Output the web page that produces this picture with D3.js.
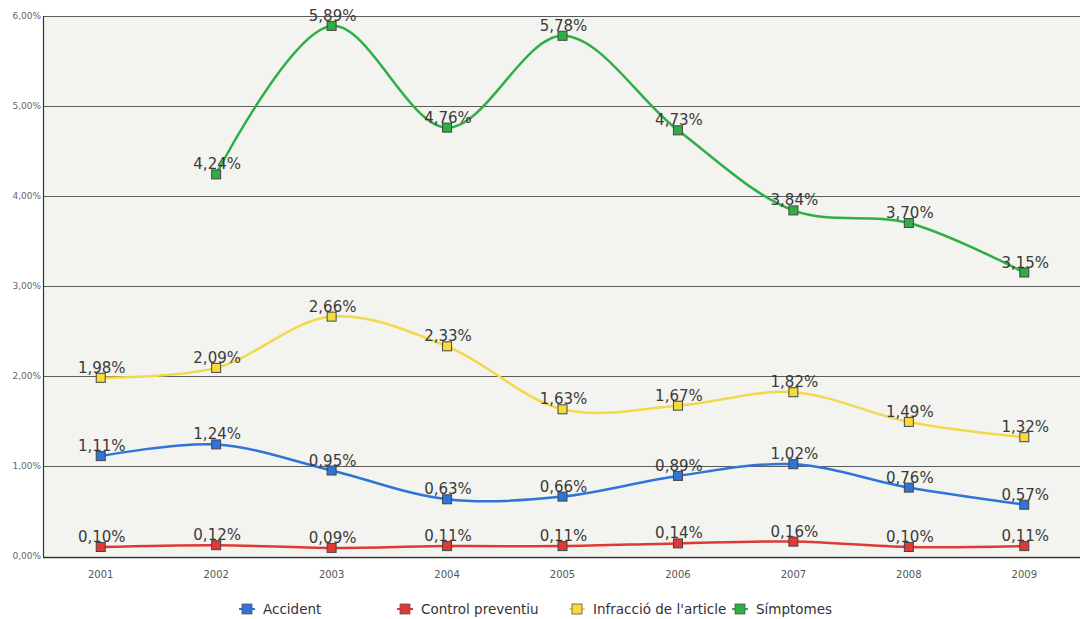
<!DOCTYPE html>
<html>
<head>
<meta charset="utf-8">
<script src="https://cdn.jsdelivr.net/npm/d3@7"></script>
<style>
  html, body { margin: 0; padding: 0; background: #ffffff; }
  svg { display: block; font-family: "DejaVu Sans", Verdana, sans-serif; }
</style>
</head>
<body>
<svg id="chart" width="1080" height="619"></svg>
<script>
const years = ["2001","2002","2003","2004","2005","2006","2007","2008","2009"];
const yTicks = [0, 1, 2, 3, 4, 5, 6];
const seriesNames = ["Accident", "Control preventiu", "Infracció de l'article", "Símptomes"];
const accident = [1.11, 1.24, 0.95, 0.63, 0.66, 0.89, 1.02, 0.76, 0.57];
const controlPreventiu = [0.10, 0.12, 0.09, 0.11, 0.11, 0.14, 0.16, 0.10, 0.11];
const infraccio = [1.98, 2.09, 2.66, 2.33, 1.63, 1.67, 1.82, 1.49, 1.32];
const simptomes = [null, 4.24, 5.89, 4.76, 5.78, 4.73, 3.84, 3.70, 3.15];

const seriesColors = ["#2f74d8", "#e03a36", "#f2d94a", "#2fae46"];
const markerColors = ["#2f74d8", "#e03a36", "#f5dc3c", "#2fae46"];

const series = [accident, controlPreventiu, infraccio, simptomes].map((vals, i) => ({
  name: seriesNames[i],
  color: seriesColors[i],
  mcolor: markerColors[i],
  values: vals.map((v, j) => ({ year: years[j], value: v })).filter(d => d.value !== null)
}));

const svg = d3.select("#chart");
const pLeft = 43, pTop = 16, pRight = 1080, pBottom = 556;

const x = d3.scalePoint().domain(years).range([pLeft, pLeft + 1039]).padding(0.5);
const y = d3.scaleLinear().domain([0, 6]).range([pBottom, pTop]);

const fmt = v => v.toFixed(2).replace(".", ",") + "%";

// plot background
svg.append("rect")
  .attr("x", pLeft).attr("y", pTop)
  .attr("width", pRight - pLeft).attr("height", pBottom - pTop)
  .attr("fill", "#f3f3ef");

// gridlines
svg.append("g").selectAll("line")
  .data(yTicks.filter(t => t > 0))
  .join("line")
  .attr("x1", pLeft).attr("x2", pRight)
  .attr("y1", d => Math.round(y(d)) + 0.5).attr("y2", d => Math.round(y(d)) + 0.5)
  .attr("stroke", "#5c5c5c").attr("stroke-width", 1.2);

// axes lines
svg.append("line")
  .attr("x1", pLeft + 0.5).attr("x2", pLeft + 0.5)
  .attr("y1", pTop).attr("y2", pBottom + 1)
  .attr("stroke", "#333").attr("stroke-width", 1.2);
svg.append("line")
  .attr("x1", pLeft).attr("x2", pRight)
  .attr("y1", pBottom + 1.5).attr("y2", pBottom + 1.5)
  .attr("stroke", "#333").attr("stroke-width", 1.4);

// y tick labels
svg.append("g").selectAll("text")
  .data(yTicks)
  .join("text")
  .attr("x", pLeft - 2).attr("y", d => y(d) + 3)
  .attr("text-anchor", "end")
  .attr("font-size", 9)
  .attr("fill", "#666")
  .text(d => d.toFixed(2).replace(".", ",") + "%");

// x tick labels
svg.append("g").selectAll("text")
  .data(years)
  .join("text")
  .attr("x", d => x(d)).attr("y", 578)
  .attr("text-anchor", "middle")
  .attr("font-size", 10)
  .attr("fill", "#555")
  .text(d => d);

const line = d3.line()
  .x(d => x(d.year))
  .y(d => y(d.value))
  .curve(d3.curveCatmullRom.alpha(0.5));

const g = svg.append("g");
series.forEach(s => {
  g.append("path")
    .attr("d", line(s.values))
    .attr("fill", "none")
    .attr("stroke", s.color)
    .attr("stroke-width", 2.5);
});
series.forEach(s => {
  g.append("g").selectAll("rect")
    .data(s.values)
    .join("rect")
    .attr("x", d => x(d.year) - 4.5).attr("y", d => y(d.value) - 4.5)
    .attr("width", 9).attr("height", 9)
    .attr("fill", s.mcolor)
    .attr("stroke", "#444").attr("stroke-width", 1);
});
series.forEach(s => {
  g.append("g").selectAll("text")
    .data(s.values)
    .join("text")
    .attr("x", d => x(d.year) + 1).attr("y", d => y(d.value) - 5)
    .attr("text-anchor", "middle")
    .attr("font-size", 15)
    .attr("fill", "#3a3a3a")
    .text(d => fmt(d.value));
});

// legend
const legendX = [247, 405, 577, 740];
const leg = svg.append("g");
series.forEach((s, i) => {
  const lx = legendX[i], ly = 609;
  leg.append("line")
    .attr("x1", lx - 8).attr("x2", lx + 8)
    .attr("y1", ly).attr("y2", ly)
    .attr("stroke", s.color).attr("stroke-width", 2);
  leg.append("rect")
    .attr("x", lx - 5).attr("y", ly - 5)
    .attr("width", 10).attr("height", 10)
    .attr("fill", s.mcolor)
    .attr("stroke", "#555").attr("stroke-width", 0.8);
  leg.append("text")
    .attr("x", lx + 16).attr("y", ly + 5)
    .attr("font-size", 13.5)
    .attr("fill", "#333")
    .text(s.name);
});
</script>
</body>
</html>
